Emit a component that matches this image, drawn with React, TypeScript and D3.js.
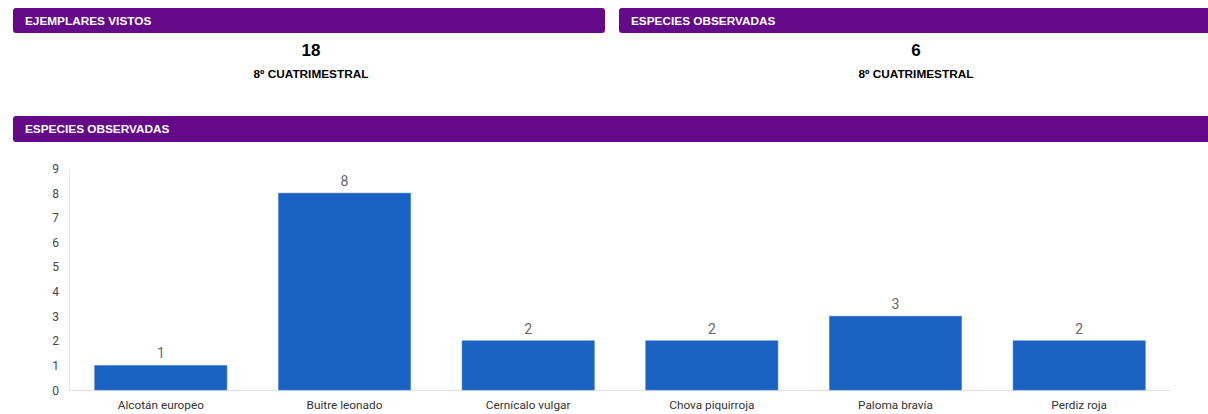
import React from "react";
import * as d3 from "d3";

const species = ["Alcotán europeo", "Buitre leonado", "Cernícalo vulgar", "Chova piquirroja", "Paloma bravía", "Perdiz roja"];
const counts = [1, 8, 2, 2, 3, 2];
const yTicks = [0, 1, 2, 3, 4, 5, 6, 7, 8, 9];
const kpiTitles = ["EJEMPLARES VISTOS", "ESPECIES OBSERVADAS"];
const kpiValues = ["18", "6"];
const kpiPeriod = "8º CUATRIMESTRAL";
const chartTitle = "ESPECIES OBSERVADAS";

const W = 1208;
const H = 414;
const PURPLE = "#640a88";
const BAR = "#1a62c2";

export default function App() {
  const x = d3.scaleBand<string>().domain(species).range([69, 1171]).paddingInner(0.28).paddingOuter(0.14);
  const y = d3.scaleLinear().domain([0, 9]).range([390, 168.5]);
  const kpiBoxes = [
    { x: 13, w: 592, cx: 311 },
    { x: 619, w: 600, cx: 916 },
  ];
  return (
    <svg width={W} height={H} style={{ position: "absolute", left: 0, top: 0, display: "block" }}>
      <rect x={0} y={0} width={W} height={H} fill="#fff" />
      {kpiBoxes.map((b, i) => (
        <g key={i}>
          <rect x={b.x} y={8} width={b.w} height={25} rx={3} fill={PURPLE} />
          <text x={b.x + 12} y={24.5} fill="#fff" fontFamily="Liberation Sans, Arial, sans-serif" fontWeight="bold" fontSize={11.8}>
            {kpiTitles[i]}
          </text>
          <text x={b.cx} y={56} textAnchor="middle" fill="#000" fontFamily="Liberation Sans, Arial, sans-serif" fontWeight="bold" fontSize={17}>
            {kpiValues[i]}
          </text>
          <text x={b.cx} y={78} textAnchor="middle" fill="#000" fontFamily="Liberation Sans, Arial, sans-serif" fontWeight="bold" fontSize={11.8}>
            {kpiPeriod}
          </text>
        </g>
      ))}
      <rect x={13} y={116} width={1210} height={26} rx={3} fill={PURPLE} />
      <text x={25} y={133} fill="#fff" fontFamily="Liberation Sans, Arial, sans-serif" fontWeight="bold" fontSize={11.8}>
        {chartTitle}
      </text>
      <line x1={69.5} x2={69.5} y1={170} y2={390} stroke="#e6e6e6" strokeWidth={1} />
      <line x1={69} x2={1171} y1={390.5} y2={390.5} stroke="#e0e0e0" strokeWidth={1} />
      {yTicks.map((t) => (
        <text key={t} x={59} y={y(t) + 4.5} textAnchor="end" fill="#444" fontFamily="Roboto, Arial, sans-serif" fontSize={12}>
          {t}
        </text>
      ))}
      {species.map((s, i) => (
        <g key={s}>
          <rect
            x={x(s)!}
            y={y(counts[i])}
            width={x.bandwidth()}
            height={390 - y(counts[i])}
            fill={BAR}
            stroke="#4a86d6"
            strokeWidth={0.6}
          />
          <text x={x(s)! + x.bandwidth() / 2} y={y(counts[i]) - 7} textAnchor="middle" fill="#666" fontFamily="Roboto, Arial, sans-serif" fontSize={14}>
            {counts[i]}
          </text>
          <text x={x(s)! + x.bandwidth() / 2} y={409} textAnchor="middle" fill="#333" fontFamily="Roboto, Arial, sans-serif" fontSize={11.8}>
            {s}
          </text>
        </g>
      ))}
    </svg>
  );
}
